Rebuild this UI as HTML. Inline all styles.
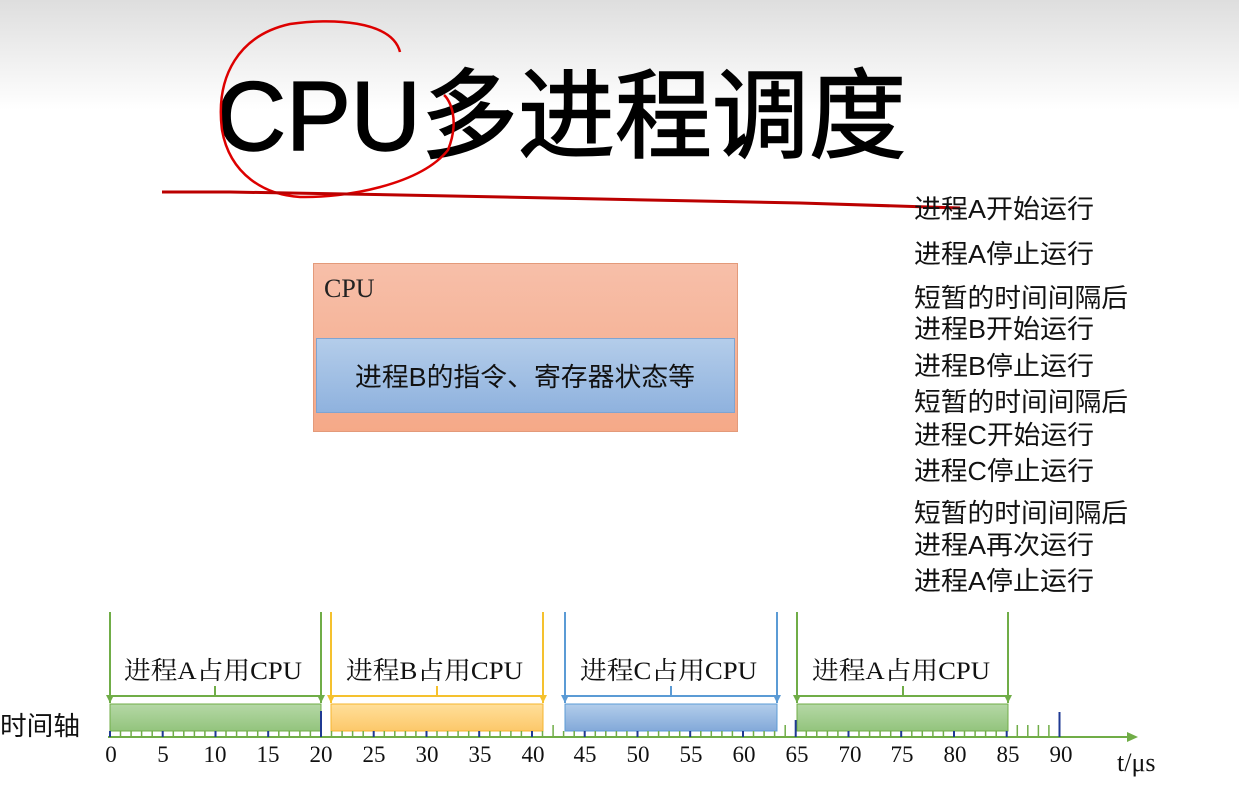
<!DOCTYPE html>
<html><head><meta charset="utf-8"><style>
html,body{margin:0;padding:0;background:#fff}
svg{display:block}
.cjk{font-family:"Liberation Sans","Noto Sans CJK SC",sans-serif}
.ser{font-family:"Liberation Serif","Noto Serif CJK SC","Noto Sans CJK SC",serif}
</style></head><body>
<svg width="1239" height="798" viewBox="0 0 1239 798" xmlns="http://www.w3.org/2000/svg">
<defs>
<linearGradient id="bg" x1="0" y1="0" x2="0" y2="1"><stop offset="0" stop-color="#dedede"/><stop offset="1" stop-color="#ffffff"/></linearGradient>
<linearGradient id="sal" x1="0" y1="0" x2="0" y2="1"><stop offset="0" stop-color="#f7bfa9"/><stop offset="1" stop-color="#f5a988"/></linearGradient>
<linearGradient id="blu" x1="0" y1="0" x2="0" y2="1"><stop offset="0" stop-color="#b4cdea"/><stop offset="1" stop-color="#8fb2de"/></linearGradient>
<linearGradient id="grn" x1="0" y1="0" x2="0" y2="1"><stop offset="0" stop-color="#b5d8a6"/><stop offset="1" stop-color="#93c47d"/></linearGradient>
<linearGradient id="yel" x1="0" y1="0" x2="0" y2="1"><stop offset="0" stop-color="#ffdf9a"/><stop offset="1" stop-color="#fcc86a"/></linearGradient>
<linearGradient id="cb" x1="0" y1="0" x2="0" y2="1"><stop offset="0" stop-color="#b2cdeb"/><stop offset="1" stop-color="#83a9d9"/></linearGradient>
</defs>
<rect width="1239" height="110" fill="url(#bg)"/>
<text x="216" y="150" class="cjk" font-size="98" fill="#000" stroke="#000" stroke-width="1.5" textLength="690" lengthAdjust="spacingAndGlyphs">CPU多进程调度</text>
<path d="M400,52 C392,20 330,18 290,24 C240,35 215,75 222,130 C230,175 265,195 300,197 C345,198 420,185 448,150 C460,120 450,100 444,95" fill="none" stroke="#d00" stroke-width="2.5"/>
<path d="M162,192 L230,192 L400,195 L600,199 L800,203 L960,208" fill="none" stroke="#b00" stroke-width="3"/>
<rect x="313.5" y="263.5" width="424" height="168" fill="url(#sal)" stroke="#e39a7a"/>
<text x="324" y="297" class="ser" font-size="26" fill="#222">CPU</text>
<rect x="316.5" y="338.5" width="418" height="74" fill="url(#blu)" stroke="#7fa4d1"/>
<text x="355" y="386" class="cjk" font-size="26" fill="#111" textLength="340" lengthAdjust="spacingAndGlyphs">进程B的指令、寄存器状态等</text>
<g class="cjk" font-size="26" fill="#111">
<text x="914" y="218" textLength="180" lengthAdjust="spacingAndGlyphs">进程A开始运行</text>
<text x="914" y="263" textLength="180" lengthAdjust="spacingAndGlyphs">进程A停止运行</text>
<text x="914" y="307" textLength="214" lengthAdjust="spacingAndGlyphs">短暂的时间间隔后</text>
<text x="914" y="338" textLength="180" lengthAdjust="spacingAndGlyphs">进程B开始运行</text>
<text x="914" y="375" textLength="180" lengthAdjust="spacingAndGlyphs">进程B停止运行</text>
<text x="914" y="411" textLength="214" lengthAdjust="spacingAndGlyphs">短暂的时间间隔后</text>
<text x="914" y="444" textLength="180" lengthAdjust="spacingAndGlyphs">进程C开始运行</text>
<text x="914" y="480" textLength="180" lengthAdjust="spacingAndGlyphs">进程C停止运行</text>
<text x="914" y="522" textLength="214" lengthAdjust="spacingAndGlyphs">短暂的时间间隔后</text>
<text x="914" y="554" textLength="180" lengthAdjust="spacingAndGlyphs">进程A再次运行</text>
<text x="914" y="590" textLength="180" lengthAdjust="spacingAndGlyphs">进程A停止运行</text>
</g>
<g stroke-width="2" fill="none">
<g stroke="#70ad47"><line x1="110" y1="612" x2="110" y2="703"/><line x1="321" y1="612" x2="321" y2="703"/><line x1="110" y1="696" x2="321" y2="696"/><line x1="215" y1="686" x2="215" y2="696"/></g>
<g stroke="#f5c12e"><line x1="331" y1="612" x2="331" y2="703"/><line x1="543" y1="612" x2="543" y2="703"/><line x1="331" y1="696" x2="543" y2="696"/><line x1="437" y1="686" x2="437" y2="696"/></g>
<g stroke="#5b9bd5"><line x1="565" y1="612" x2="565" y2="703"/><line x1="777" y1="612" x2="777" y2="703"/><line x1="565" y1="696" x2="777" y2="696"/><line x1="671" y1="686" x2="671" y2="696"/></g>
<g stroke="#70ad47"><line x1="797" y1="612" x2="797" y2="703"/><line x1="1008" y1="612" x2="1008" y2="703"/><line x1="797" y1="696" x2="1008" y2="696"/><line x1="903" y1="686" x2="903" y2="696"/></g>
</g>
<g>
<polygon points="106,695 114,695 110,703" fill="#70ad47"/><polygon points="317,695 325,695 321,703" fill="#70ad47"/>
<polygon points="327,695 335,695 331,703" fill="#f5c12e"/><polygon points="539,695 547,695 543,703" fill="#f5c12e"/>
<polygon points="561,695 569,695 565,703" fill="#5b9bd5"/><polygon points="773,695 781,695 777,703" fill="#5b9bd5"/>
<polygon points="793,695 801,695 797,703" fill="#70ad47"/><polygon points="1004,695 1012,695 1008,703" fill="#70ad47"/>
</g>
<g class="ser" font-size="25" fill="#111">
<text x="124" y="679" textLength="178" lengthAdjust="spacingAndGlyphs">进程A占用CPU</text>
<text x="346" y="679" textLength="177" lengthAdjust="spacingAndGlyphs">进程B占用CPU</text>
<text x="580" y="679" textLength="177" lengthAdjust="spacingAndGlyphs">进程C占用CPU</text>
<text x="812" y="679" textLength="178" lengthAdjust="spacingAndGlyphs">进程A占用CPU</text>
</g>
<rect x="110" y="704" width="211" height="27" fill="url(#grn)" stroke="#70ad47"/>
<rect x="331" y="704" width="212" height="27" fill="url(#yel)" stroke="#f5b52e"/>
<rect x="565" y="704" width="212" height="27" fill="url(#cb)" stroke="#5b9bd5"/>
<rect x="797" y="704" width="211" height="27" fill="url(#grn)" stroke="#70ad47"/>
<line x1="108" y1="737" x2="1128" y2="737" stroke="#70ad47" stroke-width="2"/>
<polygon points="1127,732 1138,737 1127,742" fill="#70ad47"/>
<g stroke="#70ad47" stroke-width="1.5">
<path d="M120.5,737V731M131.1,737V731M141.6,737V731M152.2,737V731M162.7,737V731M173.3,737V731M183.8,737V731M194.4,737V731M204.9,737V731M215.5,737V731M226,737V731M236.6,737V731M247.1,737V731M257.7,737V731M268.2,737V731M278.8,737V731M289.3,737V731M299.9,737V731M310.4,737V731M331.5,737V731M342.1,737V731M352.6,737V731M363.2,737V731M373.7,737V731M384.3,737V731M394.8,737V731M405.4,737V731M415.9,737V731M426.5,737V731M437,737V731M447.6,737V731M458.1,737V731M468.7,737V731M479.2,737V731M489.8,737V731M500.3,737V731M510.9,737V731M521.4,737V731M532,737V731M542.5,737V731M563.6,737V731M574.2,737V731M584.7,737V731M595.3,737V731M605.8,737V731M616.4,737V731M626.9,737V731M637.5,737V731M648,737V731M658.6,737V731M669.1,737V731M679.7,737V731M690.2,737V731M700.8,737V731M711.3,737V731M721.9,737V731M732.4,737V731M743,737V731M753.5,737V731M764.1,737V731M774.6,737V731M806.3,737V731M816.8,737V731M827.4,737V731M837.9,737V731M848.5,737V731M859,737V731M869.6,737V731M880.1,737V731M890.7,737V731M901.2,737V731M911.8,737V731M922.3,737V731M932.9,737V731M943.4,737V731M954,737V731M964.5,737V731M975.1,737V731M985.6,737V731M996.2,737V731"/>
<path d="M553.1,737V725M785.2,737V725M1017.3,737V725M1027.8,737V725M1038.4,737V725M1048.9,737V725"/>
</g>
<g stroke="#1f3a93" stroke-width="2">
<path d="M110,737V731M162.7,737V731M215.5,737V731M268.2,737V731M321,737V711M373.7,737V731M426.5,737V731M479.2,737V731M532,737V731M584.7,737V731M637.5,737V731M690.2,737V731M743,737V731M795.7,737V720M848.5,737V731M901.2,737V731M954,737V731M1006.7,737V731M1059.5,737V712"/>
</g>
<g class="ser" font-size="23" fill="#111" text-anchor="middle">
<text x="111" y="762">0</text><text x="163" y="762">5</text><text x="215" y="762">10</text><text x="268" y="762">15</text><text x="321" y="762">20</text><text x="374" y="762">25</text><text x="427" y="762">30</text><text x="480" y="762">35</text><text x="533" y="762">40</text><text x="585" y="762">45</text><text x="638" y="762">50</text><text x="691" y="762">55</text><text x="744" y="762">60</text><text x="797" y="762">65</text><text x="850" y="762">70</text><text x="902" y="762">75</text><text x="955" y="762">80</text><text x="1008" y="762">85</text><text x="1061" y="762">90</text>
</g>
<text x="1117" y="771" class="ser" font-size="26" fill="#111">t/μs</text>
<text x="0" y="735" class="cjk" font-size="26" fill="#111" textLength="80" lengthAdjust="spacingAndGlyphs">时间轴</text>
</svg>
</body></html>
